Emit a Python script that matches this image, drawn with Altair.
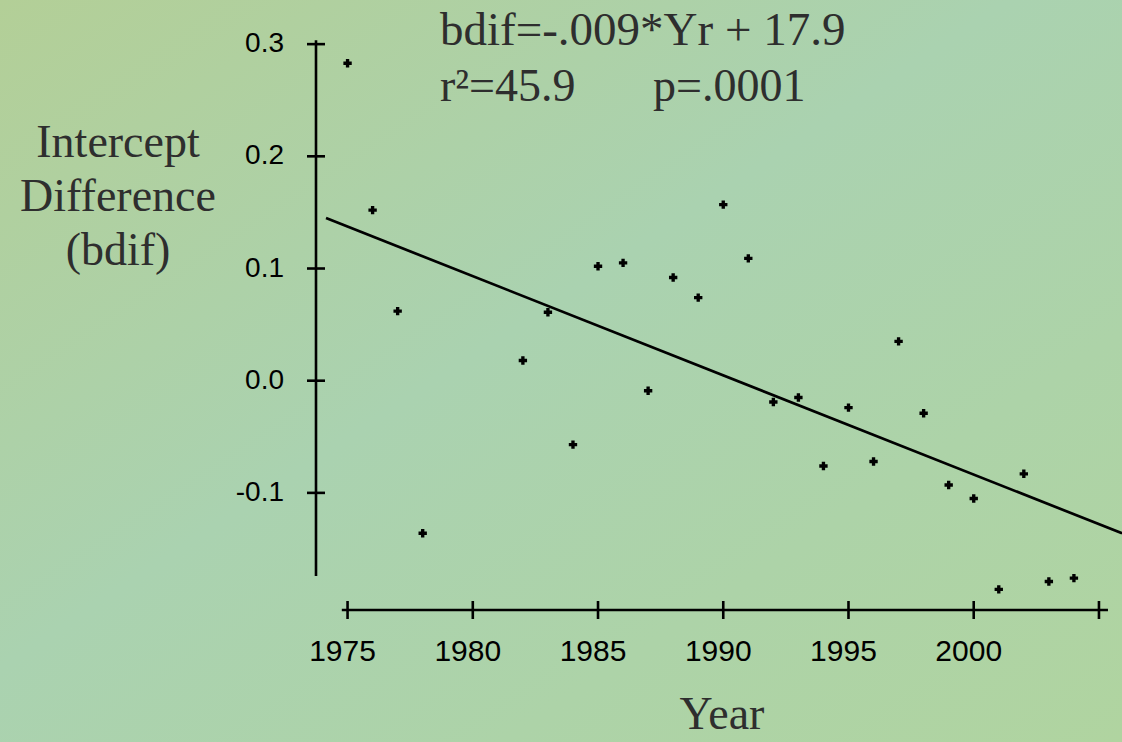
import altair as alt
import pandas as pd

# ---- data ----
years = [1975, 1976, 1977, 1978, 1982, 1983, 1984, 1985, 1986, 1987, 1988, 1989,
         1990, 1991, 1992, 1993, 1994, 1995, 1996, 1997, 1998, 1999, 2000, 2001,
         2002, 2003, 2004]
bdif = [0.283, 0.152, 0.062, -0.136, 0.018, 0.061, -0.057, 0.102, 0.105, -0.009,
        0.092, 0.074, 0.157, 0.109, -0.019, -0.015, -0.076, -0.024, -0.072, 0.035,
        -0.029, -0.093, -0.105, -0.186, -0.083, -0.179, -0.176]

fit_years = [1974.14, 2005.92]
fit_vals = [0.145, -0.136]

x_tick_years = [1975, 1980, 1985, 1990, 1995, 2000, 2005]
x_label_years = [1975, 1980, 1985, 1990, 1995, 2000]
y_tick_vals = [-0.1, 0.0, 0.1, 0.2, 0.3]
y_tick_text = ["-0.1", "0.0", "0.1", "0.2", "0.3"]

eq_text = "bdif=-.009*Yr + 17.9"
r2_text = "r\u00b2=45.9"
p_text = "p=.0001"
y_title = "Intercept\nDifference\n(bdif)"
x_title = "Year"

# ---- scales ----
W, H = 806, 569
xs = alt.Scale(domain=[1973.74, 2005.92], nice=False, zero=False)
ys = alt.Scale(domain=[-0.2044, 0.3028], nice=False, zero=False)

SANS = "Arial, Liberation Sans"
SERIF = "Times New Roman, Liberation Serif"
TXT = "#2e2e2e"

pts = pd.DataFrame({"year": years, "bdif": bdif})
fit = pd.DataFrame({"year": fit_years, "bdif": fit_vals})
xt = pd.DataFrame({"year": x_tick_years})
xl = pd.DataFrame({"year": x_label_years, "lab": [str(v) for v in x_label_years]})
yt = pd.DataFrame({"v": y_tick_vals, "lab": y_tick_text})
one = pd.DataFrame({"a": [0]})

bg = alt.Chart(one).mark_rect(
    fill=alt.Gradient(
        gradient="linear",
        stops=[alt.GradientStop(color="#b3cf97", offset=0),
               alt.GradientStop(color="#aad2b0", offset=0.45),
               alt.GradientStop(color="#b0d4a0", offset=1)],
        x1=0, x2=1, y1=0, y2=1),
    clip=False,
).encode(x=alt.value(-316), x2=alt.value(806), y=alt.value(-41), y2=alt.value(701))

# y axis line
y_dom = alt.Chart(pd.DataFrame({"y0": [0.3035], "y1": [-0.174]})).mark_rule(
    color="black", strokeWidth=2.6).encode(
    x=alt.value(0),
    y=alt.Y("y0:Q", scale=ys, axis=None), y2="y1:Q")
y_ticks = alt.Chart(yt).mark_rule(color="black", strokeWidth=2.6).encode(
    y=alt.Y("v:Q", scale=ys, axis=None), x=alt.value(-9), x2=alt.value(9))
y_labs = alt.Chart(yt).mark_text(
    align="right", baseline="middle", font=SANS, fontSize=28, color="black").encode(
    y=alt.Y("v:Q", scale=ys, axis=None), x=alt.value(-32), text="lab:N")

# x axis line
x_dom = alt.Chart(pd.DataFrame({"x0": [1974.77], "x1": [2005.36]})).mark_rule(
    color="black", strokeWidth=2.6).encode(
    x=alt.X("x0:Q", scale=xs, axis=None), x2="x1:Q", y=alt.value(H))
x_ticks = alt.Chart(xt).mark_rule(color="black", strokeWidth=2.6).encode(
    x=alt.X("year:Q", scale=xs, axis=None), y=alt.value(H - 9), y2=alt.value(H + 9))
x_labs = alt.Chart(xl).mark_text(
    align="center", baseline="middle", font=SANS, fontSize=30, color="black", dx=-5).encode(
    x=alt.X("year:Q", scale=xs, axis=None), y=alt.value(H + 42), text="lab:N")

fit_line = alt.Chart(fit).mark_line(color="black", strokeWidth=2.7, clip=False).encode(
    x=alt.X("year:Q", scale=xs, axis=None),
    y=alt.Y("bdif:Q", scale=ys, axis=None))

points = alt.Chart(pts).mark_point(
    shape="cross", filled=True, color="black", size=70, opacity=1).encode(
    x=alt.X("year:Q", scale=xs, axis=None),
    y=alt.Y("bdif:Q", scale=ys, axis=None))

def label(txt, x, y, size, align="left", line_h=None):
    kw = dict(align=align, baseline="alphabetic", font=SERIF, fontSize=size,
              color=TXT, text=txt)
    if line_h:
        kw.update(lineBreak="\n", lineHeight=line_h)
    return alt.Chart(one).mark_text(**kw).encode(x=alt.value(x), y=alt.value(y))

eq = label(eq_text, 124, 4, 47)
r2 = label(r2_text, 124, 60, 46)
pv = label(p_text, 337, 60, 46)
ytitle = label(y_title, -198, 116, 46, align="center", line_h=54)
xtitle = label(x_title, 406, 688, 46, align="center")

chart = alt.layer(
    bg, y_dom, y_ticks, y_labs, x_dom, x_ticks, x_labs, fit_line, points,
    eq, r2, pv, ytitle, xtitle
).properties(
    width=W, height=H,
    autosize=alt.AutoSizeParams(type="none"),
    padding={"left": 316, "top": 41, "right": 0, "bottom": 132},
    background="#b2d3a3",
).configure_view(stroke=None)

chart.save("out.html", embed_options={"renderer": "svg", "actions": False})
